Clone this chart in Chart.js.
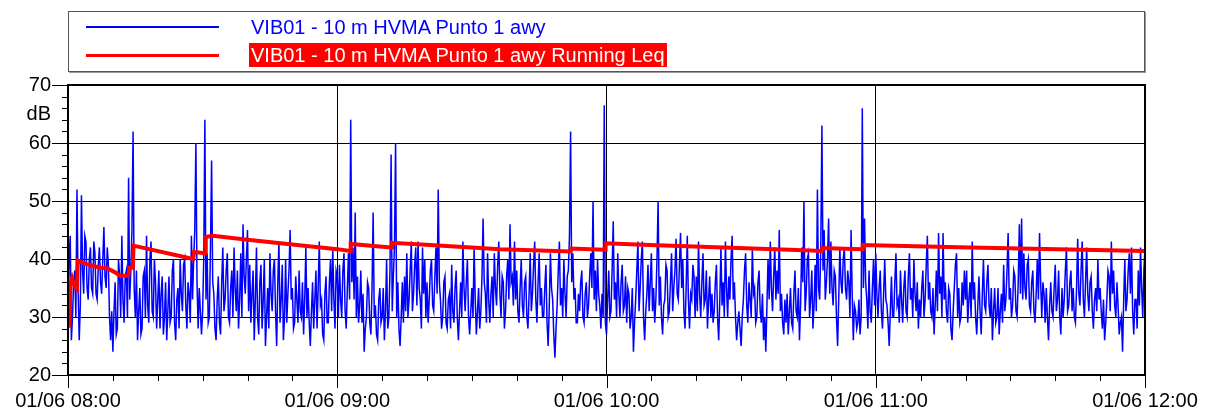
<!DOCTYPE html>
<html>
<head>
<meta charset="utf-8">
<script src="https://cdn.jsdelivr.net/npm/chart.js@4/dist/chart.umd.min.js"></script>
<style>
  html, body { margin: 0; padding: 0; background: #fff; }
  #wrap { position: relative; width: 1205px; height: 412px; }
  #legend {
    position: absolute; left: 68px; top: 11px; width: 1075px; height: 59px;
    border: 1px solid #555; box-shadow: 1px 1px 0 #999;
    font-family: "Liberation Sans", Arial, sans-serif; font-size: 20px;
  }
  .item { position: absolute; left: 0; height: 24px; line-height: 24px; white-space: nowrap; }
  .item .swatch { position: absolute; left: 17px; width: 133px; }
  .item .txt { position: absolute; left: 180px; top: 0; padding: 0 2px; }
</style>
</head>
<body>
<div id="wrap">
  <canvas id="chartContainer" width="1205" height="412"></canvas>
  <div id="legend"></div>
</div>
<script>
// minutes after 01/06 08:00, one level every 15 s
var SAMPLE_MIN = 0.25;

var level0800 = [
	27, 40, 44, 26, 30, 36, 38, 30, 52, 35, 26, 32, 51, 38, 34, 44, 43, 35, 33, 40, 42, 35, 34, 43, 41, 34, 33, 39, 42, 36, 34, 40, 45.5, 37, 35, 42, 39, 30, 26, 31,
	24, 31, 36, 27, 28, 40, 37, 30, 44, 33, 29, 37, 38, 30, 54, 33, 38, 45, 62, 35, 30, 38, 26, 31, 35, 27, 28, 37, 38, 30, 44, 32, 29, 40, 43, 31, 30, 40, 36, 28,
	33, 38, 28, 34, 37, 27, 30, 36, 26, 31, 37, 29, 30, 38, 40, 29, 26, 33, 35, 28, 40, 34, 31, 39, 40, 32, 28, 36, 34, 29, 44, 33, 40, 45, 60, 36, 28, 35, 31, 27,
	31, 40, 64, 33, 41, 29, 30, 42, 57, 36, 34, 28, 26, 33, 37, 29, 27, 36, 42, 31, 33, 38, 41, 30, 29, 35, 38, 30, 42, 35, 31, 38, 28, 33, 41, 30, 46, 37, 34, 40,
	45, 31, 39, 29, 34, 38, 26, 33, 42, 30, 27, 36, 39, 28, 33, 40, 25, 30, 35, 28, 41, 34, 31, 38, 40, 31, 25, 36, 43, 29, 33, 39, 26, 30, 40, 29, 34, 38, 45, 33,
	35, 28, 29, 37, 33, 29, 38, 31, 30, 36, 27, 33, 42, 30, 35, 29, 25, 31, 36, 28, 33, 38, 28, 35, 43, 32, 33, 27, 26, 34, 37, 29, 29, 36, 40, 31, 42, 33, 28, 38,
];
var level0900 = [
	37, 30, 39, 33, 30, 38, 41, 31, 28, 35, 41, 33, 64, 36, 42, 33, 48, 30, 37, 29, 32, 38, 29, 34, 24, 28, 30, 36, 35, 29, 27, 35, 48, 30, 32, 27, 26, 33, 35, 29,
	30, 35, 26, 31, 40, 28, 30, 38, 58, 31, 37, 42, 60, 30, 36, 28, 25, 30, 36, 29, 37, 31, 41, 30, 33, 38, 43, 31, 34, 39, 42, 32, 43, 35, 33, 28, 42, 34, 40, 30,
	36, 29, 33, 38, 40, 32, 31, 37, 42, 34, 52, 36, 33, 28, 30, 36, 37, 29, 28, 33, 34, 28, 39, 31, 29, 35, 38, 30, 26, 31, 36, 30, 43, 35, 31, 36, 40, 30, 27, 31,
	35, 30, 42, 33, 27, 31, 35, 28, 31, 37, 47, 36, 34, 29, 41, 33, 29, 34, 37, 30, 41, 35, 32, 39, 43, 34, 30, 37, 36, 28, 31, 37, 40, 33, 46, 36, 37, 32, 43, 33,
	38, 31, 29, 35, 40, 32, 30, 36, 37, 30, 28, 34, 41, 31, 34, 39, 43, 33, 29, 36, 41, 32, 35, 30, 30, 35, 39, 29, 25, 32, 41, 35, 33, 27, 23, 28, 32, 38, 43, 32,
	35, 30, 40, 34, 30, 37, 38, 44, 62, 36, 41, 33, 35, 29, 29, 34, 31, 36, 38, 30, 29, 34, 36, 30, 32, 37, 41, 35, 50, 33, 38, 31, 40, 34, 32, 28, 34, 30, 66.5, 29,
];
var level1000 = [
	27, 33, 38, 30, 31, 38, 46.5, 33, 36, 30, 41, 34, 30, 36, 39, 31, 32, 37, 29, 35, 34, 28, 30, 35, 24, 29, 33, 38, 43, 31, 35, 40, 43, 30, 26, 31, 34, 39, 31, 36,
	41, 31, 35, 29, 33, 40, 50, 32, 37, 30, 27, 32, 33, 39, 38, 30, 31, 36, 41, 31, 35, 38, 43.5, 34, 33, 39, 44.5, 35, 40, 31, 28, 35, 44, 33, 28, 34, 33, 39, 37, 30,
	37, 31, 43, 34, 30, 36, 41, 32, 33, 38, 28, 33, 37, 30, 34, 29, 31, 36, 39, 30, 26, 33, 42, 32, 36, 30, 43, 35, 30, 37, 33, 40, 44, 33, 36, 30, 26, 29, 31, 28,
	25, 30, 33, 38, 41, 32, 29, 36, 33, 30, 42, 34, 35, 29, 30, 36, 38, 31, 29, 34, 26, 30, 24, 32, 40, 33, 43, 35, 31, 37, 42, 33, 38, 34, 45, 31, 34, 29, 27, 33,
	29, 34, 27, 31, 35, 29, 28, 34, 38, 31, 30, 35, 26, 32, 42, 36, 50, 31, 34, 40, 41, 30, 33, 38, 28, 32, 39, 31, 52, 35, 33, 42, 63, 38, 45, 33, 36, 40, 47, 34,
	43, 35, 32, 38, 37, 30, 25, 33, 42, 36, 34, 40, 42, 35, 33, 38, 36, 30, 45, 34, 26, 32, 31, 28, 29, 33, 27, 30, 66, 35, 47, 36, 33, 28, 38, 31, 29, 35, 40, 32,
];
var level1100 = [
	41, 34, 30, 35, 38, 31, 28, 34, 40, 33, 32, 29, 25, 31, 37, 30, 30, 36, 41, 32, 33, 29, 38, 33, 29, 35, 38, 31, 30, 37, 41, 33, 35, 30, 40, 34, 31, 36, 28, 33,
	30, 35, 38, 30, 33, 39, 44, 33, 36, 31, 30, 35, 27, 32, 38, 31, 44.5, 34, 37, 30, 44.5, 33, 36, 31, 29, 35, 34, 28, 26, 31, 35, 39, 41, 30, 35, 29, 30, 36, 32, 38,
	33, 38, 29, 33, 36, 30, 43, 33, 36, 30, 27, 32, 37, 31, 27, 34, 40, 32, 31, 36, 39, 32, 30, 35, 26, 31, 35, 29, 30, 35, 27, 31, 34, 29, 39, 31, 33, 38, 44.5, 33,
	35, 30, 32, 38, 37, 31, 30, 36, 46, 34, 47, 33, 41, 35, 33, 39, 40, 32, 31, 36, 38, 31, 29, 34, 40, 33, 44.5, 36, 30, 36, 34, 29, 35, 30, 26, 32, 36, 31, 30, 35,
	39, 31, 33, 38, 30, 27, 35, 30, 33, 38, 42, 31, 32, 36, 38, 31, 35, 30, 29, 35, 43.5, 34, 32, 38, 43, 33, 30, 36, 42, 34, 31, 36, 37, 31, 28, 33, 35, 31, 40, 33,
	35, 31, 28, 33, 26, 29, 33, 38, 37, 31, 43, 34, 38, 32, 30, 36, 32, 27, 29, 30, 24, 33, 40, 31, 33, 38, 41, 34, 42, 31, 27, 33, 33, 28, 38, 32, 42, 35, 30, 38,
];
var level1200 = [42];

// running Leq, break points (minutes, dB)
var leqMinutes = [0, 0.33, 0.55, 0.9, 1.35, 2.0, 2.2, 3.8, 7.1, 8.7, 10.5, 11.6, 13.4, 13.7, 14.45, 14.6,
	27.9, 28.1, 30.55, 30.7, 32.3, 40, 60, 62.9, 63.0, 72.0, 72.2, 80.7, 96.3, 112.0, 112.1,
	119.7, 119.8, 129.7, 160.9, 168.0, 168.1, 177.0, 177.1, 201, 240];
var leqValues = [28.5, 28.5, 35.8, 36.7, 35.6, 34.9, 39.7, 39.2, 38.5, 38.4, 37.7, 37.1, 37.1, 38.5, 38.5, 42.3,
	40.0, 41.2, 41.0, 43.8, 44.0, 43.3, 41.7, 41.4, 42.6, 42.0, 42.8, 42.4, 41.7, 41.3, 41.8,
	41.6, 42.7, 42.4, 41.6, 41.4, 41.9, 41.7, 42.4, 42.0, 41.4];

var xTickMinutes = [0, 60, 120, 180, 240];
var xTickLabels = ["01/06 08:00", "01/06 09:00", "01/06 10:00", "01/06 11:00", "01/06 12:00"];
var yTickValues = [20, 30, 40, 50, 60, 65, 70];
var yTickLabels = ["20", "30", "40", "50", "60", "dB", "70"];

var seriesLabels = ["VIB01 - 10 m HVMA Punto 1 awy", "VIB01 - 10 m HVMA Punto 1 awy Running Leq"];

Chart.defaults.font.family = '"Liberation Sans", Arial, sans-serif';
Chart.defaults.font.size = 20;
Chart.defaults.color = "#000";

// minor/major tick marks and the plot frame
const frameTicks = {
	id: "frameTicks",
	afterDraw(chart) {
		const { ctx, chartArea: a, scales } = chart;
		ctx.save();
		ctx.strokeStyle = "#000";
		ctx.lineWidth = 1;
		ctx.beginPath();
		for (let m = 0; m <= 240; m += 10) {
			const px = Math.round(scales.x.getPixelForValue(m)) + 0.5;
			ctx.moveTo(px, a.bottom);
			ctx.lineTo(px, a.bottom + (m % 60 === 0 ? 13 : 6));
		}
		for (let v = 20; v <= 70; v += 2) {
			const py = Math.round(scales.y.getPixelForValue(v)) + 0.5;
			ctx.moveTo(a.left, py);
			ctx.lineTo(a.left - (v % 10 === 0 ? 16 : 6), py);
		}
		ctx.stroke();
		ctx.lineWidth = 2;
		ctx.strokeRect(a.left, a.top, a.right - a.left, a.bottom - a.top);
		ctx.restore();
	},
};

function showData() {
	const levels = level0800.concat(level0900, level1000, level1100, level1200);

	const data = {
		datasets: [
			{
				label: seriesLabels[0],
				data: levels.map((v, i) => ({ x: i * SAMPLE_MIN, y: v })),
				borderColor: "#0000ff",
				borderWidth: 1.5,
				pointRadius: 0,
				order: 1,
			},
			{
				label: seriesLabels[1],
				data: leqMinutes.map((m, i) => ({ x: m, y: leqValues[i] })),
				borderColor: "#ff0000",
				borderWidth: 4,
				pointRadius: 0,
				order: 0,
			},
		],
	};

	const chart = new Chart(document.getElementById("chartContainer"), {
		type: "line",
		data: data,
		plugins: [frameTicks],
		options: {
			responsive: false,
			animation: false,
			layout: { padding: { top: 85, right: 60, left: 0, bottom: 0 } },
			plugins: { legend: { display: false }, tooltip: { enabled: false } },
			scales: {
				x: {
					type: "linear",
					min: 0,
					max: 240,
					afterBuildTicks: (scale) => { scale.ticks = xTickMinutes.map((v) => ({ value: v })); },
					afterFit: (scale) => {
						scale.height = 37;
						scale.paddingLeft = 0;
						scale.paddingRight = 0;
					},
					ticks: {
						autoSkip: false,
						maxRotation: 0,
						padding: 14,
						callback: (v) => xTickLabels[xTickMinutes.indexOf(v)],
					},
					grid: {
						drawTicks: false,
						color: (c) => (c.tick && c.tick.value > 0 && c.tick.value < 240 ? "#000" : "rgba(0,0,0,0)"),
					},
					border: { display: false },
				},
				y: {
					min: 20,
					max: 70,
					afterBuildTicks: (scale) => { scale.ticks = yTickValues.map((v) => ({ value: v })); },
					afterFit: (scale) => {
						scale.width = 68;
						scale.paddingTop = 0;
						scale.paddingBottom = 0;
					},
					ticks: {
						autoSkip: false,
						padding: 17,
						callback: (v) => yTickLabels[yTickValues.indexOf(v)],
					},
					grid: {
						drawTicks: false,
						color: (c) => (c.tick && c.tick.value % 10 === 0 && c.tick.value > 20 && c.tick.value < 70 ? "#000" : "rgba(0,0,0,0)"),
					},
					border: { display: false },
				},
			},
		},
	});

	// legend box, built from the datasets
	const legend = document.getElementById("legend");
	chart.data.datasets.forEach((ds, i) => {
		const row = document.createElement("div");
		row.className = "item";
		row.style.top = (i === 0 ? 3 : 31) + "px";
		const sw = document.createElement("div");
		sw.className = "swatch";
		const thick = ds.borderWidth > 2 ? 3 : 1.5;
		sw.style.height = thick + "px";
		sw.style.top = (12 - thick / 2) + "px";
		sw.style.background = ds.borderColor;
		const txt = document.createElement("span");
		txt.className = "txt";
		txt.textContent = ds.label;
		if (i === 1) {
			txt.style.background = ds.borderColor;
			txt.style.color = "#fff";
		} else {
			txt.style.color = ds.borderColor;
		}
		row.appendChild(sw);
		row.appendChild(txt);
		legend.appendChild(row);
	});
}

showData();
</script>
</body>
</html>
